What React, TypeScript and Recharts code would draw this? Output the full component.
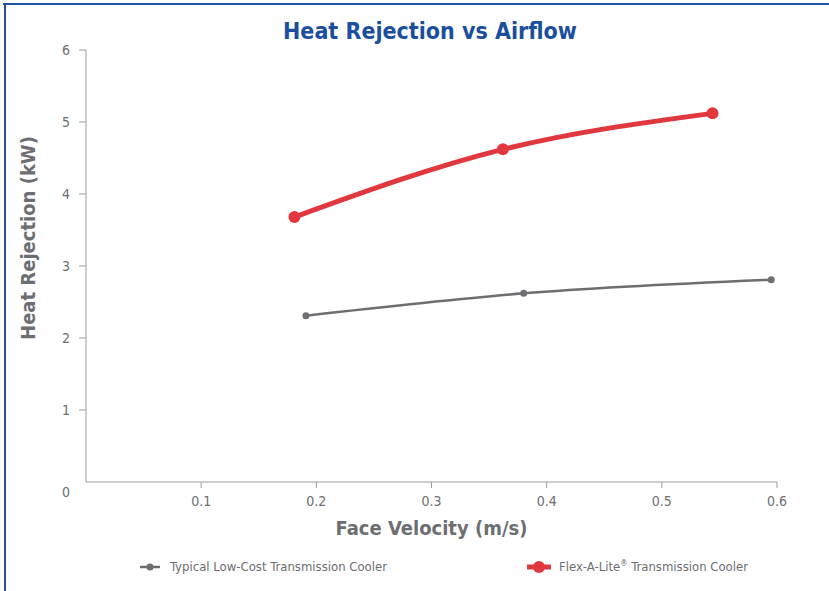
import React from "react";
import { LineChart, Line, XAxis, YAxis, Legend } from "recharts";

const typicalX = [0.191, 0.38, 0.595];
const typicalY = [2.31, 2.62, 2.81];
const flexX = [0.181, 0.362, 0.544];
const flexY = [3.68, 4.62, 5.12];
const xTicks = [0.1, 0.2, 0.3, 0.4, 0.5, 0.6];
const yTicks = [0, 1, 2, 3, 4, 5, 6];

const typicalData = typicalX.map((x, i) => ({ x, y: typicalY[i] }));
const flexData = flexX.map((x, i) => ({ x, y: flexY[i] }));

const GRAY = "#6d6e71";
const AXIS = "#9a9b9e";
const RED = "#e1373f";
const BLUE = "#1b4f9e";
const NARROW = "'DejaVu Sans Condensed', 'Roboto', sans-serif";
const BOLDC = "'DejaVu Sans Condensed', sans-serif";

const YTick = (props: any) => {
  const { x, y, payload } = props;
  const isZero = payload.value === 0;
  return (
    <g>
      {!isZero && <line x1={x + 1} x2={x + 8} y1={y} y2={y} stroke={AXIS} strokeWidth={1} />}
      <text x={x - 8} y={y + (isZero ? 10 : 0)} dy={5} textAnchor="end" fill={GRAY} fontSize={14} fontFamily={NARROW}>
        {payload.value}
      </text>
    </g>
  );
};

const YLabel = (props: any) => {
  const vb = props.viewBox || {};
  const cx = (vb.x ?? 26) + 2;
  const cy = (vb.y ?? 50) + (vb.height ?? 431) / 2 - 28;
  return (
    <text
      x={cx}
      y={cy}
      transform={`rotate(-90, ${cx}, ${cy})`}
      textAnchor="middle"
      dominantBaseline="central"
      fill={GRAY}
      fontSize={20}
      fontWeight={700}
      fontFamily={BOLDC}
    >
      Heat Rejection (kW)
    </text>
  );
};

const LegendContent = () => (
  <div style={{ position: "relative", height: 30, fontFamily: NARROW, fontSize: 13, color: GRAY }}>
    <svg width={40} height={20} style={{ position: "absolute", left: 134, top: 0 }}>
      <line x1={6} x2={26} y1={10} y2={10} stroke={GRAY} strokeWidth={2.5} />
      <circle cx={16} cy={10} r={3.5} fill={GRAY} />
    </svg>
    <span style={{ position: "absolute", left: 170, top: 0, lineHeight: "20px", whiteSpace: "nowrap" }}>
      Typical Low-Cost Transmission Cooler
    </span>
    <svg width={40} height={20} style={{ position: "absolute", left: 521, top: 0 }}>
      <line x1={6} x2={30} y1={10} y2={10} stroke={RED} strokeWidth={5} />
      <circle cx={18} cy={10} r={6} fill={RED} />
    </svg>
    <span style={{ position: "absolute", left: 559, top: 0, lineHeight: "20px", whiteSpace: "nowrap" }}>
      Flex-A-Lite
      <span style={{ fontSize: 8, position: "relative", top: -5 }}>®</span> Transmission Cooler
    </span>
  </div>
);

export default function App() {
  return (
    <div style={{ position: "absolute", left: 0, top: 0, width: 829, height: 591, background: "#fff", overflow: "hidden" }}>
      <div style={{ position: "absolute", left: 3, top: 3, width: 840, height: 2, background: "#2151a1" }} />
      <div style={{ position: "absolute", left: 4, top: 3, width: 2, height: 600, background: "#2151a1" }} />
      <div
        style={{
          position: "absolute",
          left: 0,
          width: 860,
          top: 16,
          textAlign: "center",
          fontFamily: BOLDC,
          fontWeight: 700,
          fontSize: 23,
          color: BLUE,
          lineHeight: "30px",
        }}
      >
        Heat Rejection vs Airflow
      </div>
      <LineChart
        width={829}
        height={591}
        data={typicalData}
        margin={{ top: 50, right: 52, left: 26, bottom: 19 }}
      >
        <XAxis
          type="number"
          dataKey="x"
          domain={[0, 0.6]}
          ticks={xTicks}
          allowDataOverflow
          stroke={AXIS}
          tickSize={6}
          tick={{ fill: GRAY, fontSize: 14, fontFamily: NARROW }}
          tickMargin={8}
          height={60}
          label={{
            value: "Face Velocity (m/s)",
            position: "insideBottom",
            offset: 7,
            fill: GRAY,
            fontSize: 20,
            fontWeight: 700,
            fontFamily: BOLDC,
          }}
        />
        <YAxis
          type="number"
          dataKey="y"
          domain={[0, 6]}
          ticks={yTicks}
          stroke={AXIS}
          tickLine={false}
          tick={<YTick />}
          width={60}
          label={<YLabel />}
        />
        <Legend verticalAlign="bottom" content={<LegendContent />} wrapperStyle={{ left: 0, width: 829, bottom: 4 }} />
        <Line
          data={typicalData}
          dataKey="y"
          name="Typical Low-Cost Transmission Cooler"
          type="monotone"
          stroke={GRAY}
          strokeWidth={2.5}
          dot={{ r: 3.5, fill: GRAY, stroke: GRAY, strokeWidth: 0 }}
          isAnimationActive={false}
        />
        <Line
          data={flexData}
          dataKey="y"
          name="Flex-A-Lite® Transmission Cooler"
          type="monotone"
          stroke={RED}
          strokeWidth={5}
          dot={{ r: 6, fill: RED, stroke: RED, strokeWidth: 0 }}
          isAnimationActive={false}
        />
      </LineChart>
    </div>
  );
}
